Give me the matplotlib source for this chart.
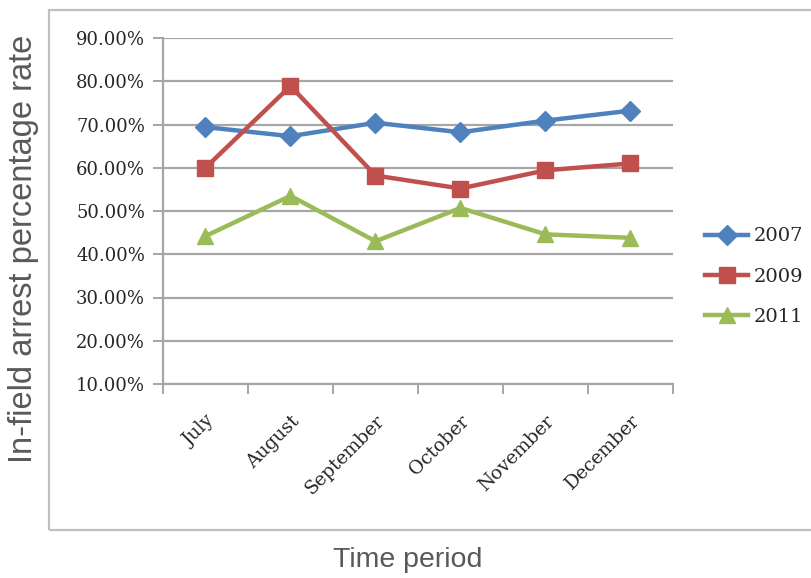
import matplotlib
matplotlib.use("Agg")
import matplotlib.pyplot as plt
from matplotlib.patches import Rectangle
from matplotlib.ticker import FuncFormatter, FixedLocator
import numpy as np

months = ["July", "August", "September", "October", "November", "December"]
years = ["2007", "2009", "2011"]
rate_2007 = [69.4, 67.3, 70.4, 68.2, 70.9, 73.2]
rate_2009 = [60.0, 78.9, 58.2, 55.2, 59.4, 61.0]
rate_2011 = [44.2, 53.5, 43.0, 50.7, 44.6, 43.8]

colors = ["#4F81BD", "#C0504D", "#9BBB59"]
markers = ["D", "s", "^"]
msizes = [10, 12, 12]

W, H = 812, 578
fig = plt.figure(figsize=(W / 100, H / 100), dpi=100)

# outer chart frame
fig.patches.append(Rectangle((49 / W, 1 - 530 / H), 1.0, (530 - 10) / H,
                             transform=fig.transFigure, fill=False,
                             edgecolor="#c0c0c0", linewidth=1.6, zorder=0))

ax = fig.add_axes([163 / W, 1 - 384 / H, (673 - 163) / W, (384 - 38) / H])

x = np.arange(len(months))
series = [rate_2007, rate_2009, rate_2011]
for vals, lab, c, m, ms in zip(series, years, colors, markers, msizes):
    ax.plot(x, vals, color=c, marker=m, markersize=ms, linewidth=3.2,
            label=lab, zorder=3, clip_on=False)

ax.set_xlim(-0.5, len(months) - 0.5)
ax.set_ylim(10, 90)
ax.yaxis.set_major_locator(FixedLocator(np.arange(10, 91, 10)))
ax.yaxis.set_major_formatter(FuncFormatter(lambda v, p: f"{v:.2f}%"))
ax.grid(axis="y", color="#a6a6a6", linewidth=1.6, zorder=1)

for s in ["top", "right"]:
    ax.spines[s].set_visible(False)
for s in ["left", "bottom"]:
    ax.spines[s].set_color("#a6a6a6")
    ax.spines[s].set_linewidth(1.6)

# category ticks sit on the boundaries between months
ax.set_xticks(np.arange(-0.5, len(months), 1.0))
ax.set_xticklabels([])
ax.set_xticks(x, minor=True)
ax.set_xticklabels(months, minor=True, rotation=45, ha="right",
                   rotation_mode="anchor", fontfamily="DejaVu Serif",
                   fontsize=13.5, color="#262626")
ax.tick_params(axis="x", which="major", length=7, width=1.4,
               color="#a6a6a6", direction="out")
ax.tick_params(axis="x", which="minor", length=0, pad=20)
ax.tick_params(axis="y", length=7, width=1.4, color="#a6a6a6", pad=6)
for t in ax.get_yticklabels():
    t.set_fontfamily("DejaVu Serif")
    t.set_fontsize(13)
    t.set_color("#262626")

leg = ax.legend(loc="center left", bbox_to_anchor=(1.048, 0.31), frameon=False,
                prop={"family": "DejaVu Serif", "size": 14},
                handlelength=2.2, handletextpad=0.3, labelspacing=1.15,
                borderaxespad=0)
for t in leg.get_texts():
    t.set_color("#262626")

fig.text(24 / W, 1 - 249 / H, "In-field arrest percentage rate", rotation=90,
         ha="center", va="center", fontfamily="Liberation Sans", fontsize=23.5,
         color="#595959")
fig.text(408 / W, 1 - 560 / H, "Time period", ha="center", va="center",
         fontfamily="Liberation Sans", fontsize=20.5, color="#595959")

fig.savefig("out.png", dpi=100)
